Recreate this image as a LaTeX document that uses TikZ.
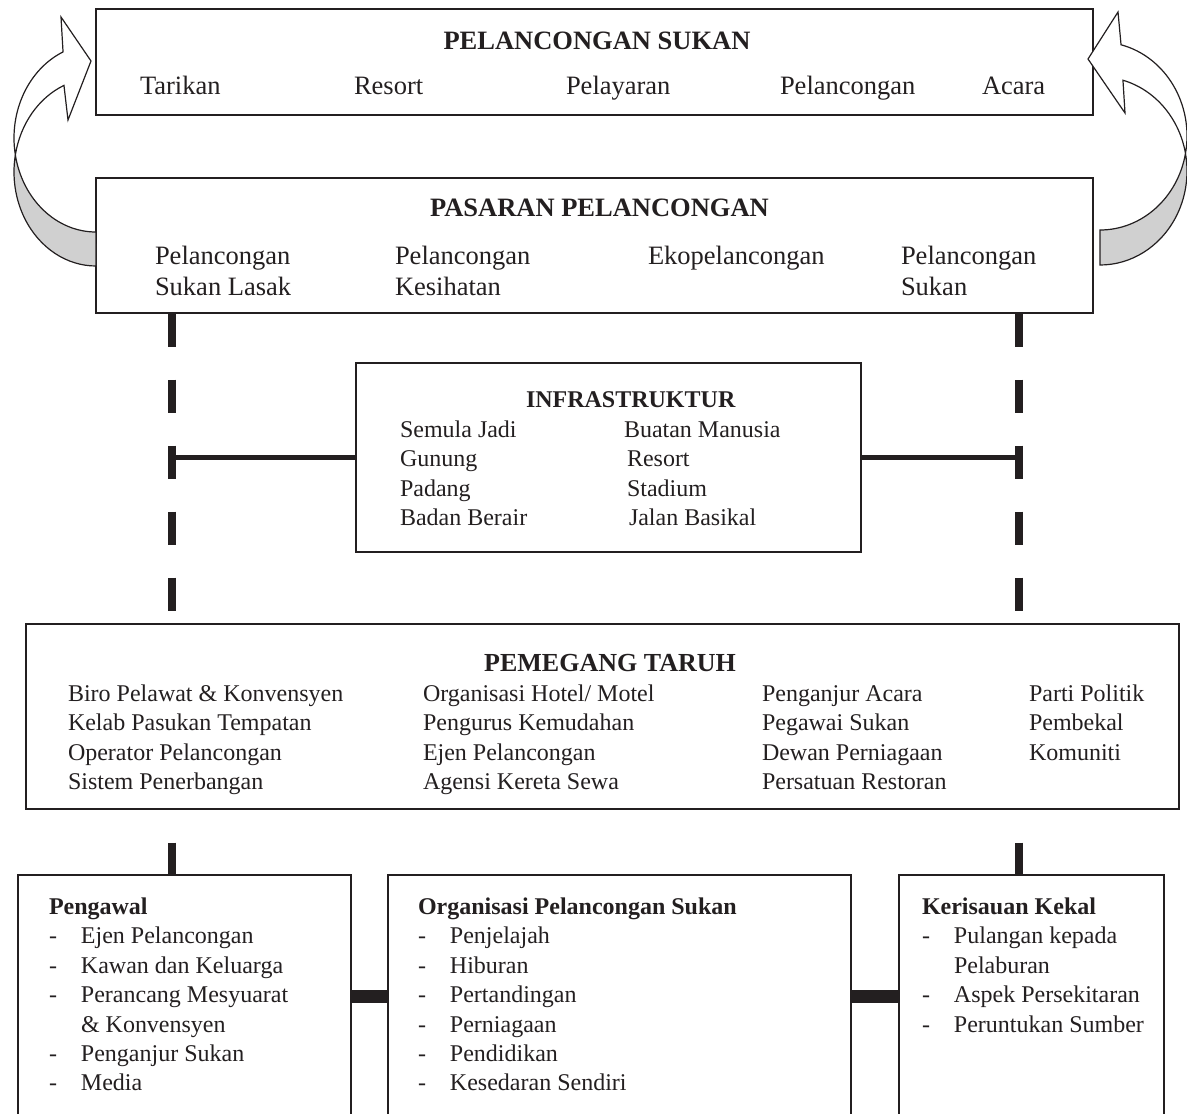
\documentclass[tikz,border=0pt]{standalone}
\usepackage{fontspec}
\setmainfont{Liberation Serif}
\newcommand\fTop{\fontsize{26.5}{30}\selectfont}
\newcommand\fBody{\fontsize{24}{29}\selectfont}
\newcommand\fPH{\fontsize{26}{30}\selectfont\bfseries}
\newcommand\dsh{\makebox[32pt][l]{-}}
\definecolor{backgray}{RGB}{208,208,208}
\definecolor{ink}{RGB}{35,31,32}
\begin{document}
\begin{tikzpicture}[x=1pt,y=1pt,
  box/.style={draw=ink, line width=1.3pt, inner sep=0pt, fill=none},
  lbl/.style={anchor=base west, inner sep=0pt, outer sep=0pt, text=ink},
  toptxt/.style={lbl, font=\fTop},
  tophead/.style={toptxt, anchor=base, font=\fTop\bfseries},
  body/.style={lbl, font=\fBody},
  bodyhead/.style={lbl, font=\fBody\bfseries},
  vdash/.style={draw=ink, line width=8pt, dash pattern=on 33pt off 33pt},
  vdashlow/.style={vdash, dash phase=33pt},
  hconn/.style={draw=ink, line width=5pt},
  bar/.style={draw=ink, line width=13pt},
  arrowface/.style={draw=ink, line width=1.2pt, fill=white, line join=miter},
  arrowback/.style={draw=ink, line width=1.2pt, fill=backgray}
]
\useasboundingbox (0,-1114) rectangle (1187,0);

% ---------- boxes ----------
\node[box, minimum width=997pt, minimum height=106pt] (top) at (594.5,-62) {};
\node[box, minimum width=997pt, minimum height=135pt] (pasar) at (594.5,-245.5) {};
\node[box, minimum width=505pt, minimum height=189pt] (infra) at (608.5,-457.5) {};
\node[box, minimum width=1153pt, minimum height=185pt] (pemeg) at (602.5,-716.5) {};
\node[box, minimum width=333pt, minimum height=242pt] (bA) at (184.5,-996) {};
\node[box, minimum width=463pt, minimum height=242pt] (bB) at (619.5,-996) {};
\node[box, minimum width=265pt, minimum height=242pt] (bC) at (1031.5,-996) {};

% ---------- connectors ----------
\coordinate (L) at (172,0);
\coordinate (R) at (1019,0);
\draw[vdash] (pasar.south -| L) -- (pemeg.north -| L);
\draw[vdash] (pasar.south -| R) -- (pemeg.north -| R);
\draw[hconn] (infra.west) -- (infra.west -| L);
\draw[hconn] (infra.east) -- (infra.east -| R);
\draw[vdashlow] (pemeg.south -| L) -- (bA.north -| L);
\draw[vdashlow] (pemeg.south -| R) -- (bC.north -| R);
\draw[bar] (bA.east) -- (bB.west);
\draw[bar] (bB.east) -- (bC.west);

% ---------- curved arrows ----------
\draw[arrowback] (15.35,-154.97) arc[start angle=190.4, end angle=270, x radius=82pt, y radius=94pt]
  -- (96,-266) arc[start angle=270, end angle=169.6, x radius=82pt, y radius=94pt] -- cycle;
\draw[arrowface] (63.04,-51.92) arc[start angle=113.7, end angle=190.4, x radius=82pt, y radius=94pt]
  arc[start angle=169.6, end angle=113, x radius=82pt, y radius=94pt]
  -- (68,-120) -- (91,-61) -- (61,-17) -- cycle;

\draw[arrowback] (1185.49,-153.45) arc[start angle=-10.7, end angle=-90, x radius=87pt, y radius=94pt]
  -- (1100,-265) arc[start angle=-90, end angle=10.7, x radius=87pt, y radius=94pt] -- cycle;
\draw[arrowface] (1121.05,-44.79) arc[start angle=76, end angle=-10.7, x radius=87pt, y radius=94pt]
  arc[start angle=10.7, end angle=74.7, x radius=87pt, y radius=94pt]
  -- (1125,-113) -- (1088,-59) -- (1118,-12) -- cycle;

% ---------- PELANCONGAN SUKAN ----------
\node[tophead] (h1) at (597,-49) {PELANCONGAN SUKAN};
\node[toptxt] (t1) at (140,-94) {Tarikan};
\node[toptxt] (t2) at (354,-94) {Resort};
\node[toptxt] (t3) at (566,-94) {Pelayaran};
\node[toptxt] (t4) at (780,-94) {Pelancongan};
\node[toptxt] (t5) at (982,-94) {Acara};

% ---------- PASARAN PELANCONGAN ----------
\node[tophead] (h2) at (599.5,-216) {PASARAN PELANCONGAN};
\node[toptxt] (p1a) at (155,-264) {Pelancongan};
\node[toptxt] (p1b) at (155,-295) {Sukan Lasak};
\node[toptxt] (p2a) at (395,-264) {Pelancongan};
\node[toptxt] (p2b) at (395,-295) {Kesihatan};
\node[toptxt] (p3a) at (648,-264) {Ekopelancongan};
\node[toptxt] (p4a) at (901,-264) {Pelancongan};
\node[toptxt] (p4b) at (901,-295) {Sukan};

% ---------- INFRASTRUKTUR ----------
\node[bodyhead] (h3) at (526,-407) {INFRASTRUKTUR};
\node[body] (i1) at (400,-437) {Semula Jadi};
\node[body] (i2) at (400,-466) {Gunung};
\node[body] (i3) at (400,-496) {Padang};
\node[body] (i4) at (400,-525) {Badan Berair};
\node[body] (i5) at (624,-437) {Buatan Manusia};
\node[body] (i6) at (627,-466) {Resort};
\node[body] (i7) at (627,-496) {Stadium};
\node[body] (i8) at (629,-525) {Jalan Basikal};

% ---------- PEMEGANG TARUH ----------
\node[lbl, anchor=base, font=\fPH] (h4) at (610,-671) {PEMEGANG TARUH};
\node[body] (s11) at (68,-701) {Biro Pelawat \& Konvensyen};
\node[body] (s12) at (68,-730) {Kelab Pasukan Tempatan};
\node[body] (s13) at (68,-760) {Operator Pelancongan};
\node[body] (s14) at (68,-789) {Sistem Penerbangan};
\node[body] (s21) at (423,-701) {Organisasi Hotel/ Motel};
\node[body] (s22) at (423,-730) {Pengurus Kemudahan};
\node[body] (s23) at (423,-760) {Ejen Pelancongan};
\node[body] (s24) at (423,-789) {Agensi Kereta Sewa};
\node[body] (s31) at (762,-701) {Penganjur Acara};
\node[body] (s32) at (762,-730) {Pegawai Sukan};
\node[body] (s33) at (762,-760) {Dewan Perniagaan};
\node[body] (s34) at (762,-789) {Persatuan Restoran};
\node[body] (s41) at (1029,-701) {Parti Politik};
\node[body] (s42) at (1029,-730) {Pembekal};
\node[body] (s43) at (1029,-760) {Komuniti};

% ---------- Pengawal ----------
\node[bodyhead] (ha) at (49,-914) {Pengawal};
\node[body] (a1) at (49,-943) {\dsh Ejen Pelancongan};
\node[body] (a2) at (49,-973) {\dsh Kawan dan Keluarga};
\node[body] (a3) at (49,-1002) {\dsh Perancang Mesyuarat};
\node[body] (a4) at (81,-1032) {\& Konvensyen};
\node[body] (a5) at (49,-1061) {\dsh Penganjur Sukan};
\node[body] (a6) at (49,-1090) {\dsh Media};

% ---------- Organisasi Pelancongan Sukan ----------
\node[bodyhead] (hb) at (418,-914) {Organisasi Pelancongan Sukan};
\node[body] (b1) at (418,-943) {\dsh Penjelajah};
\node[body] (b2) at (418,-973) {\dsh Hiburan};
\node[body] (b3) at (418,-1002) {\dsh Pertandingan};
\node[body] (b4) at (418,-1032) {\dsh Perniagaan};
\node[body] (b5) at (418,-1061) {\dsh Pendidikan};
\node[body] (b6) at (418,-1090) {\dsh Kesedaran Sendiri};

% ---------- Kerisauan Kekal ----------
\node[bodyhead] (hc) at (922,-914) {Kerisauan Kekal};
\node[body] (c1) at (922,-943) {\dsh Pulangan kepada};
\node[body] (c2) at (954,-973) {Pelaburan};
\node[body] (c3) at (922,-1002) {\dsh Aspek Persekitaran};
\node[body] (c4) at (922,-1032) {\dsh Peruntukan Sumber};
\end{tikzpicture}
\end{document}
